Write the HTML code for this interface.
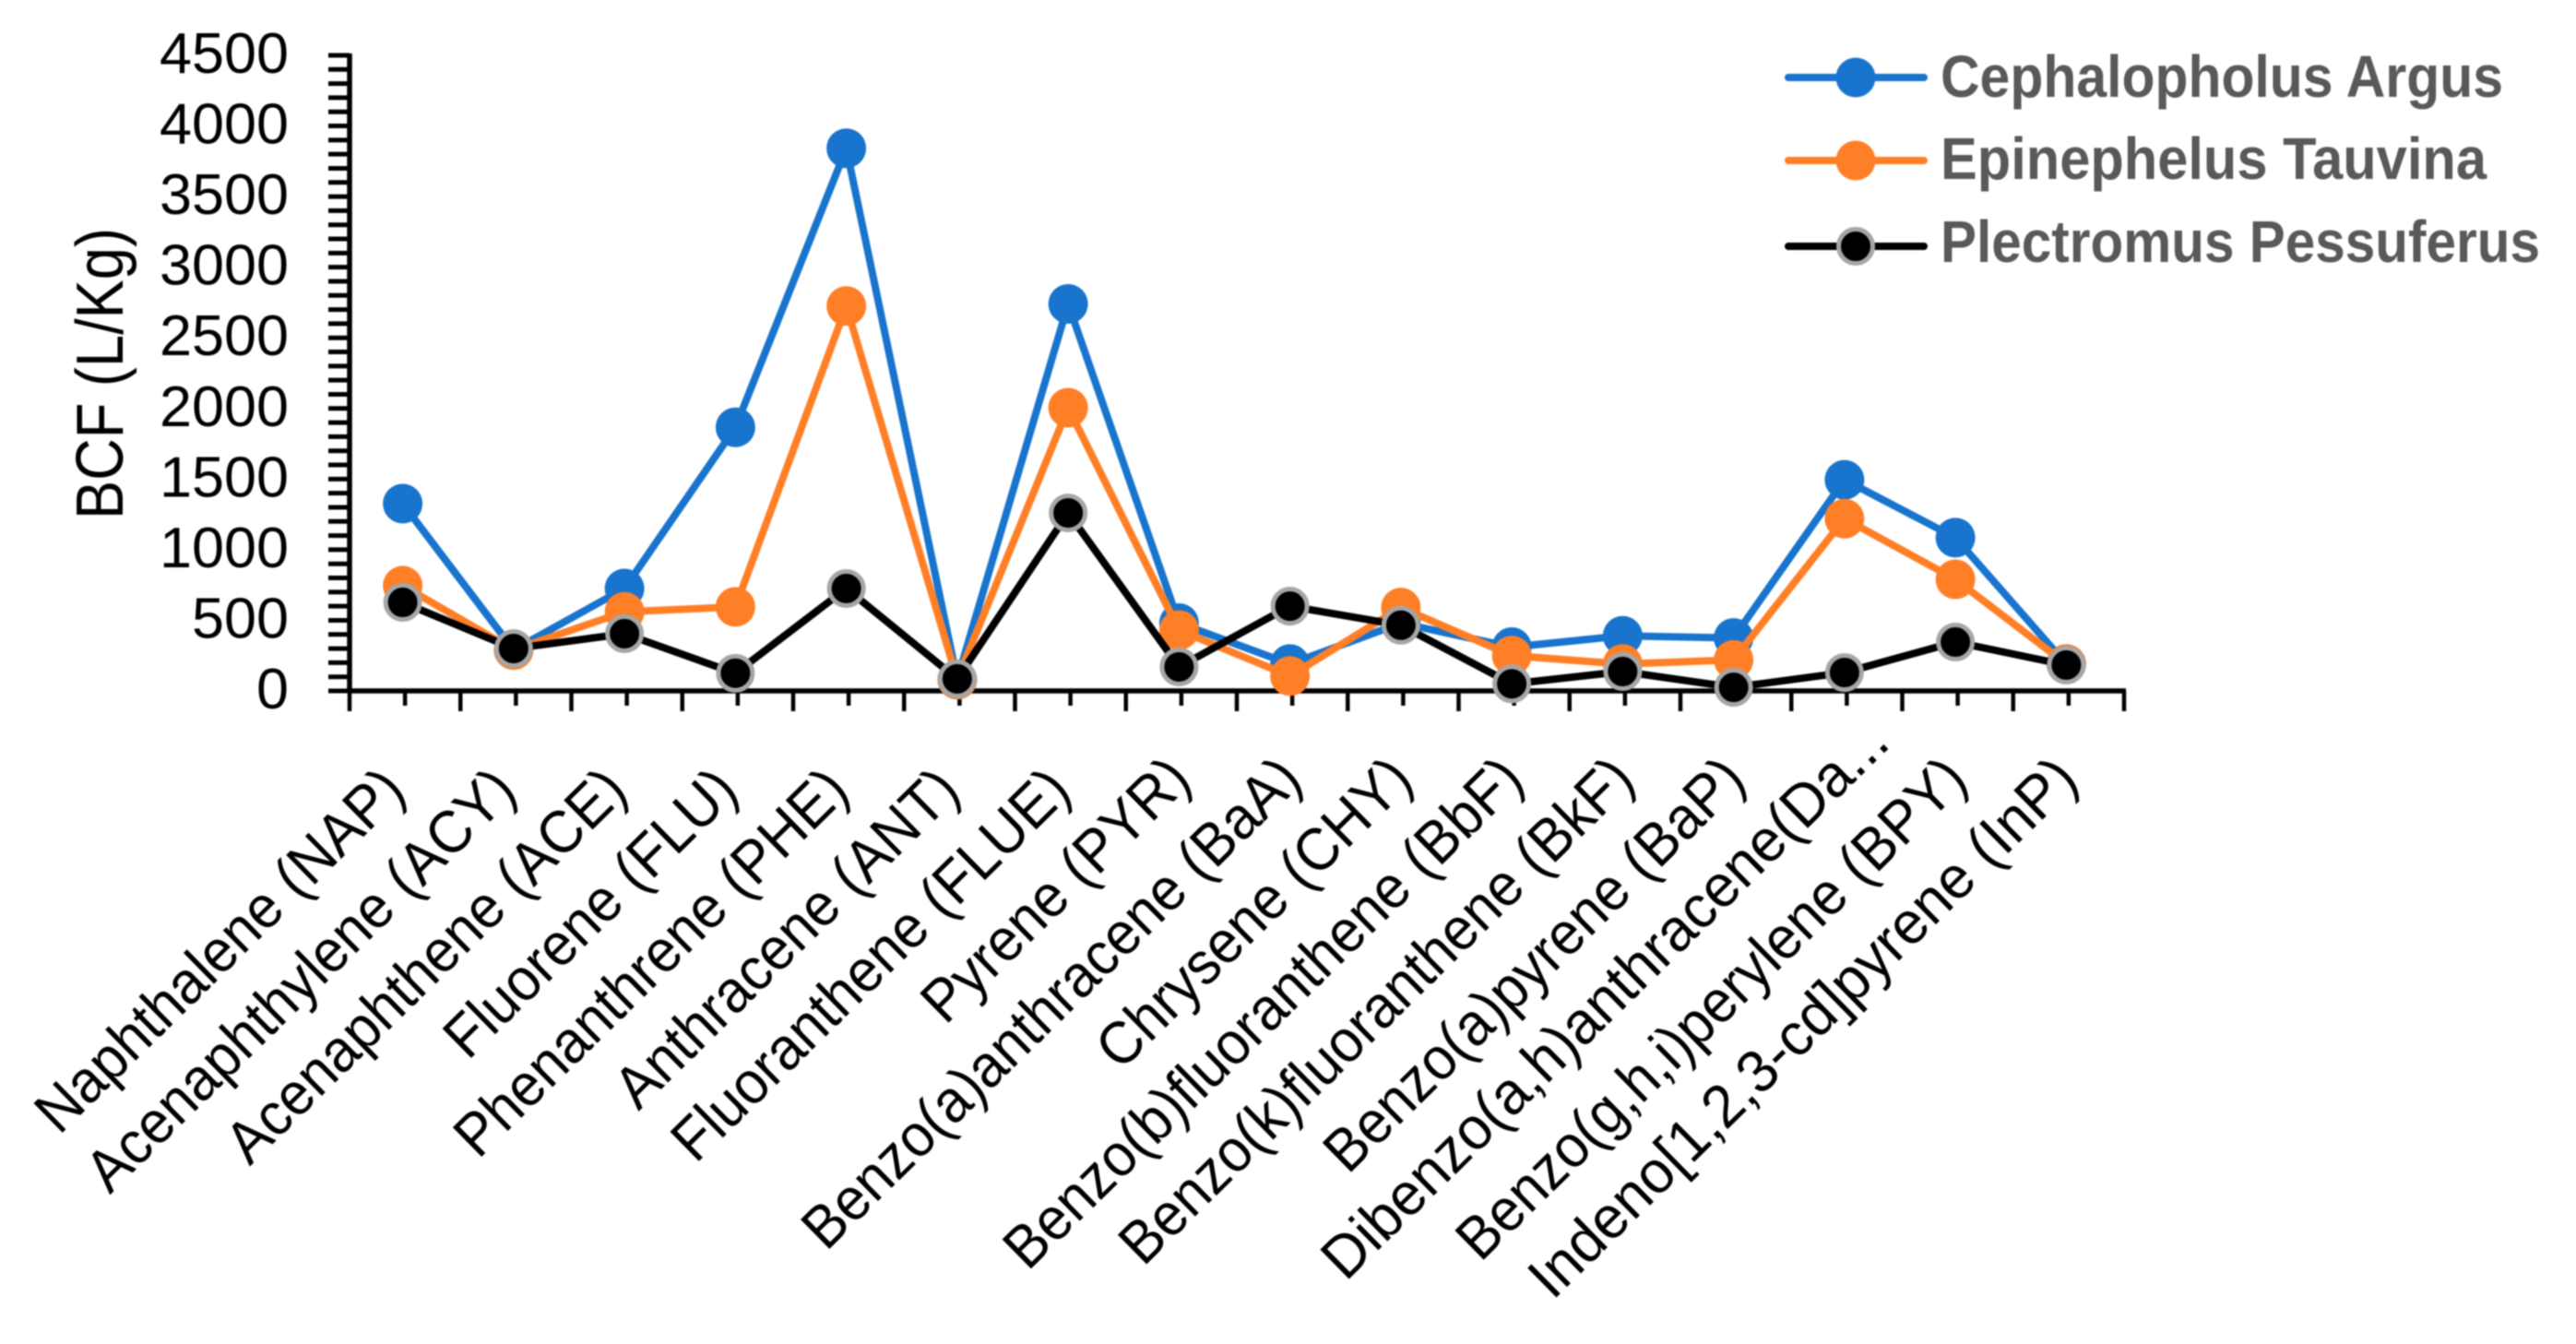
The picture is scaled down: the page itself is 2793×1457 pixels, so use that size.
<!DOCTYPE html>
<html lang="en">
<head>
<meta charset="utf-8">
<title>BCF chart</title>
<style>
html,body{margin:0;padding:0;background:#fff;}
svg{display:block;filter:blur(0.7px);}
text{font-family:"Liberation Sans",sans-serif;}
</style>
</head>
<body>
<svg id="chart" xmlns="http://www.w3.org/2000/svg" width="2793" height="1457" viewBox="0 0 2793 1457">
<rect width="2793" height="1457" fill="#fff"/>
<g id="gridless-axes"></g>
<g id="series-layer"></g>
<text transform="translate(133,563) rotate(-90)" font-size="72" fill="#000" textLength="316" lengthAdjust="spacingAndGlyphs">BCF (L/Kg)</text>
<g id="legend"></g>
</svg>
<script>
const categories = ["Naphthalene (NAP)","Acenaphthylene (ACY)","Acenaphthene (ACE)","Fluorene (FLU)","Phenanthrene (PHE)","Anthracene (ANT)","Fluoranthene (FLUE)","Pyrene (PYR)","Benzo(a)anthracene (BaA)","Chrysene (CHY)","Benzo(b)fluoranthene (BbF)","Benzo(k)fluoranthene (BkF)","Benzo(a)pyrene (BaP)","Dibenzo(a,h)anthracene(Da...","Benzo(g,h,i)perylene (BPY)","Indeno[1,2,3-cd]pyrene (InP)"];
const cephalopholusArgus = [1326,290,725,1866,3842,80,2740,480,190,480,310,390,375,1495,1085,190];
const epinephelusTauvina = [745,290,560,595,2725,80,2005,430,105,590,250,190,220,1220,790,190];
const plectromusPessuferus = [627,300,405,125,725,85,1260,170,600,465,50,137,25,130,346,183];
const yTickLabels = [0,500,1000,1500,2000,2500,3000,3500,4000,4500];
const seriesNames = ["Cephalopholus Argus","Epinephelus Tauvina","Plectromus Pessuferus"];

const NS = "http://www.w3.org/2000/svg";
const axisLeft = 379, axisRight = 2303, axisTop = 60, axisBottom = 749, yMax = 4500, minorStep = 100;
const band = (axisRight - axisLeft) / categories.length;
const tickX = i => axisLeft + band * (i + 0.5);
const xScale = i => tickX(i) - 2.5;
const yScale = v => axisBottom - (v / yMax) * (axisBottom - axisTop);

function make(tag, attrs, parent) {
  const el = document.createElementNS(NS, tag);
  for (const k in attrs) el.setAttribute(k, attrs[k]);
  parent.appendChild(el);
  return el;
}

const axes = document.getElementById("gridless-axes");
const seriesLayer = document.getElementById("series-layer");
const legend = document.getElementById("legend");

const yLine = make("line", {x1: axisLeft, x2: axisLeft, y1: axisTop - 2, y2: axisBottom + 2, stroke: "#000", "stroke-width": 5.5}, axes);


const xLine = make("line", {x1: axisLeft, x2: axisRight + 2, y1: axisBottom, y2: axisBottom, stroke: "#000", "stroke-width": 5.5}, axes);



for (let v = 0; v <= yMax; v += minorStep) {
  const t = make("line", {x1: axisLeft - 23, x2: axisLeft, y1: yScale(v), y2: yScale(v), stroke: "#000", "stroke-width": 5}, axes);
  
  
}
yTickLabels.forEach(v => {
  const t = make("text", {x: 313, y: yScale(v) + 19, "text-anchor": "end", "font-size": 62, fill: "#000"}, axes);
  
  
  t.textContent = String(v);
  const natural = t.getComputedTextLength();
  t.setAttribute("textLength", natural * 1.015);
  t.setAttribute("lengthAdjust", "spacingAndGlyphs");
});

for (let i = 0; i <= categories.length; i++) {
  const x = axisLeft + band * i;
  const t = make("line", {x1: x, x2: x, y1: axisBottom, y2: 771, stroke: "#000", "stroke-width": 4.5}, axes);
  
  
}
categories.forEach((name, i) => {
  const cx = tickX(i);
  const t = make("line", {x1: cx, x2: cx, y1: axisBottom, y2: 765, stroke: "#000", "stroke-width": 4.5}, axes);
  
  

  const truncated = name.endsWith("...");
  const wide = name.startsWith("Indeno");
  const dx = (i < 7 ? 3 : 13) + (truncated ? 36 : 0);
  const endY = (i < 7 ? 860 : 848) - (truncated ? 40 : 0);
  const label = make("text", {"font-size": 65, fill: "#000", "text-anchor": "end",
    transform: "translate(" + (cx + dx) + "," + endY + ") rotate(-44.5)"}, axes);
  
  
  label.textContent = name;
  const natural = label.getComputedTextLength();
  label.setAttribute("textLength", natural * ((wide || truncated) ? 0.97 : 0.94));
  label.setAttribute("lengthAdjust", "spacingAndGlyphs");
});

const palette = ["#1874CD", "#FF7F27", "#000000"];
const values = [cephalopholusArgus, epinephelusTauvina, plectromusPessuferus];

values.forEach((vals, s) => {
  const g = make("g", {}, seriesLayer);
  
  
  const pts = vals.map((v, i) => xScale(i) + "," + yScale(v)).join(" ");
  const line = make("polyline", {points: pts, fill: "none", stroke: palette[s], "stroke-width": 8, "stroke-linejoin": "round"}, g);
  
  
  vals.forEach((v, i) => {
    const isBlack = s === 2;
    const c = make("circle", {cx: xScale(i), cy: yScale(v), r: isBlack ? 18.5 : 21.5, fill: palette[s],
      stroke: isBlack ? "#A6A6A6" : "none", "stroke-width": isBlack ? 5 : 0}, g);
    
    
  });
});

const legendRowY = [84, 174, 267];
const legendBaseline = [105, 194, 284];
const legendWidths = [610, 592, 650];
seriesNames.forEach((name, s) => {
  const g = make("g", {}, legend);
  
  
  const l = make("line", {x1: 1939, x2: 2086, y1: legendRowY[s], y2: legendRowY[s], stroke: palette[s], "stroke-width": 8, "stroke-linecap": "round"}, g);
  
  
  const isBlack = s === 2;
  const m = make("circle", {cx: 2012, cy: legendRowY[s], r: isBlack ? 18.5 : 21.5, fill: palette[s],
    stroke: isBlack ? "#A6A6A6" : "none", "stroke-width": isBlack ? 5 : 0}, g);
  
  
  const t = make("text", {x: 2104, y: legendBaseline[s], "font-size": 64, "font-weight": "bold", fill: "#595959",
    textLength: legendWidths[s], lengthAdjust: "spacingAndGlyphs"}, g);
  
  
  t.textContent = name;
});
</script>
</body>
</html>
